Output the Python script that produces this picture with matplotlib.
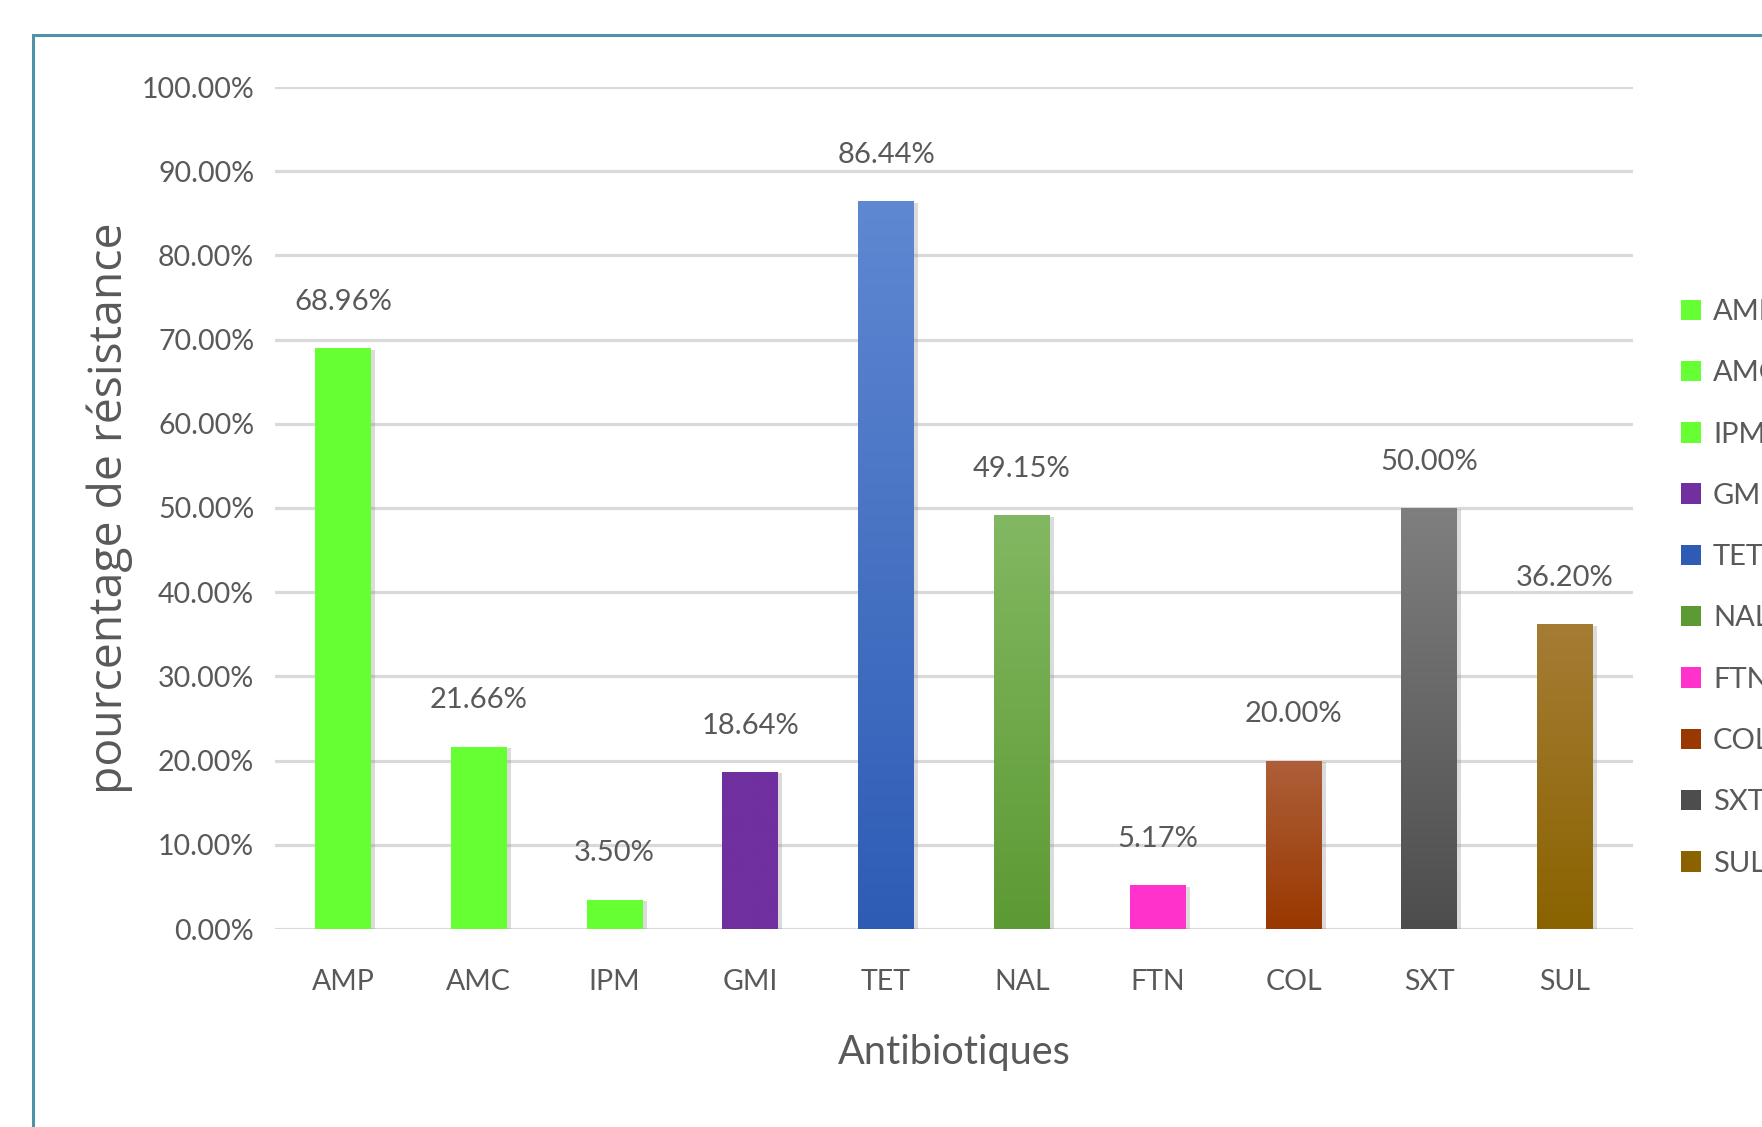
import numpy as np
import matplotlib
matplotlib.use("Agg")
import matplotlib.pyplot as plt
from matplotlib.colors import LinearSegmentedColormap
from matplotlib.patches import Rectangle
from matplotlib.ticker import FuncFormatter, MultipleLocator
import matplotlib.patheffects as pe

# Antibiotic resistance rates (fraction of isolates)
antibiotics = ["AMP", "AMC", "IPM", "GMI", "TET", "NAL", "FTN", "COL", "SXT", "SUL"]
resistance = [0.6896, 0.2166, 0.0350, 0.1864, 0.8644, 0.4915, 0.0517, 0.2000, 0.5000, 0.3620]

# Top / bottom fill colours of each bar (vertical gradient)
top_colors = ["#66FF33", "#66FF33", "#66FF33", "#7030A0", "#5F88D2",
              "#82B862", "#FF33CC", "#AE5F3A", "#7F7F7F", "#A67C35"]
bottom_colors = ["#66FF33", "#66FF33", "#66FF33", "#7030A0", "#2E5CB5",
                 "#5C9A33", "#FF33CC", "#993800", "#4D4D4D", "#8A6300"]

TEXT = "#595959"
GRID = "#D9D9D9"
MAIN_FONT = ["Lato", "DejaVu Sans"]

W, H = 1762, 1127
fig = plt.figure(figsize=(W / 100, H / 100), dpi=100)

# Chart-area frame
fig.patches.append(Rectangle((33 / W, -0.05), 1.2, 1 + 0.05 - 35 / H,
                             transform=fig.transFigure, fill=False,
                             edgecolor="#4E93A8", linewidth=2.2))

ax = fig.add_axes([275 / W, 1 - 929 / H, (1633 - 275) / W, (929 - 87) / H])
ax.set_facecolor("white")

x = np.arange(len(antibiotics))
bars = ax.bar(x, resistance, width=0.41, color=bottom_colors, zorder=3,
              path_effects=[pe.SimplePatchShadow(offset=(3, -1), shadow_rgbFace="#8a8a8a", alpha=0.3),
                            pe.Normal()])

# Vertical gradient fill clipped to each bar
for bar, c_top, c_bot in zip(bars, top_colors, bottom_colors):
    cmap = LinearSegmentedColormap.from_list("g", [c_bot, c_top])
    grad = np.linspace(0, 1, 256).reshape(-1, 1)
    x0, w, h = bar.get_x(), bar.get_width(), bar.get_height()
    im = ax.imshow(grad, cmap=cmap, origin="lower", aspect="auto",
                   extent=[x0, x0 + w, 0, h], zorder=4, interpolation="bicubic")
    im.set_clip_path(bar)

ax.bar_label(bars, labels=[f"{v * 100:.2f}%" for v in resistance], padding=24,
             fontsize=21, color=TEXT, family=MAIN_FONT)

ax.set_xlim(-0.5, len(antibiotics) - 0.5)
ax.set_ylim(0, 1.0)
ax.yaxis.set_major_locator(MultipleLocator(0.1))
ax.yaxis.set_major_formatter(FuncFormatter(lambda v, _: f"{v * 100:.2f}%"))
ax.set_xticks(x)
ax.set_xticklabels(antibiotics)

ax.grid(axis="y", color=GRID, linewidth=2.3, zorder=0)
ax.set_axisbelow(True)
for s in ax.spines.values():
    s.set_visible(False)
ax.tick_params(axis="both", length=0, labelsize=20.5, labelcolor=TEXT)
ax.tick_params(axis="x", pad=29)
ax.tick_params(axis="y", pad=15)
for lab in ax.get_xticklabels() + ax.get_yticklabels():
    lab.set_family(MAIN_FONT)

ax.set_xlabel("Antibiotiques", fontsize=28.5, color=TEXT, family=MAIN_FONT, labelpad=28)
ax.set_ylabel("pourcentage de résistance", fontsize=33.3, color=TEXT,
              family=["Open Sans", "DejaVu Sans"], labelpad=6)

leg = ax.legend(bars, antibiotics, loc="upper left", bbox_to_anchor=(1681 / W, 1 - 299 / H),
                bbox_transform=fig.transFigure, frameon=False,
                handlelength=0.7, handleheight=0.7, handletextpad=0.4,
                labelspacing=1.21, borderpad=0, borderaxespad=0,
                prop={"family": MAIN_FONT, "size": 21})
for t in leg.get_texts():
    t.set_color(TEXT)
for hnd in leg.legend_handles:
    hnd.set_path_effects([])

fig.savefig("out.png", dpi=100, facecolor="white")
